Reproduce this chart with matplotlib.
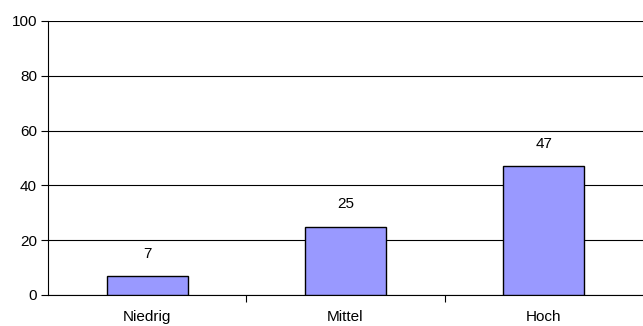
import matplotlib
matplotlib.use("Agg")
import matplotlib.pyplot as plt

categories = ["Niedrig", "Mittel", "Hoch"]
values = [7, 25, 47]
yticks = [0, 20, 40, 60, 80, 100]

plt.rcParams['font.family'] = ['Liberation Sans', 'DejaVu Sans']

fig = plt.figure(figsize=(6.43, 3.26), dpi=100)
ax = fig.add_axes([48/643, 1 - 295/326, 1 - 48/643, (295 - 21)/326])

x = range(len(categories))
bars = ax.bar(x, values, width=0.41, color='#9999FF', edgecolor='black', linewidth=1, zorder=3)
for xi, v in zip(x, values):
    ax.text(xi, v + 5.5, str(v), ha='center', va='bottom', fontsize=11)

ax.set_xlim(-0.5, len(categories) - 0.5)
ax.set_ylim(0, 100)
ax.set_yticks(yticks)
ax.yaxis.grid(True, color='black', linewidth=0.8, zorder=0)
ax.set_xticks(list(x))
ax.set_xticklabels(categories, fontsize=11)
ax.set_xticks([0.5, 1.5], minor=True)
ax.tick_params(axis='x', which='major', length=0, pad=11)
ax.tick_params(axis='x', which='minor', length=5, width=0.8, direction='out')
ax.tick_params(axis='y', length=5, width=0.8, labelsize=11, pad=3)
for s in ['top', 'right']:
    ax.spines[s].set_visible(False)
ax.spines['left'].set_linewidth(0.8)
ax.spines['bottom'].set_linewidth(0.8)

fig.savefig("out.png", dpi=100)
